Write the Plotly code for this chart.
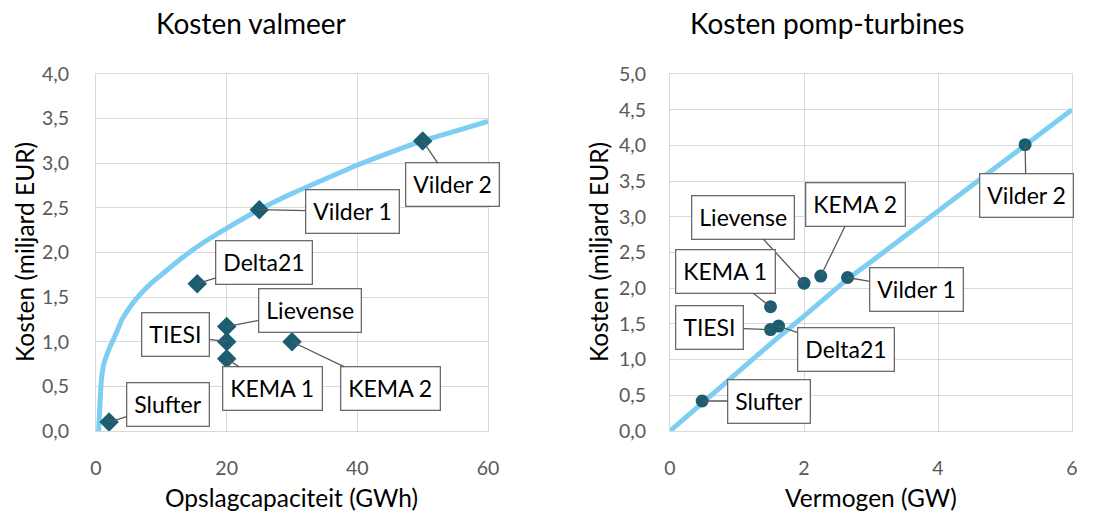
import plotly.graph_objects as go

# ---- data ----
projects = ["Slufter", "Delta21", "Lievense", "TIESI", "KEMA 1", "KEMA 2", "Vilder 1", "Vilder 2"]

# Left chart: storage capacity (GWh) vs cost (billion EUR)
cap_gwh = [2, 15.5, 20, 20, 20, 30, 25, 50]
cap_cost = [0.1, 1.65, 1.17, 1.0, 0.81, 1.0, 2.48, 3.25]

# Right chart: power (GW) vs cost (billion EUR)
pow_gw = [0.48, 1.62, 2.0, 1.5, 1.5, 2.25, 2.65, 5.3]
pow_cost = [0.42, 1.47, 2.07, 1.42, 1.74, 2.17, 2.15, 4.01]

# Trend curves
trend_cap_x = [0.4, 0.8, 1.1, 1.5, 2, 3, 4, 5.5, 7, 8.5, 10, 13, 16, 20, 25, 30, 35, 40, 45, 50, 55, 60]
trend_cap_y = [0.0, 0.55, 0.72, 0.82, 0.92, 1.08, 1.25, 1.42, 1.55, 1.66, 1.75, 1.93, 2.09, 2.27, 2.48, 2.66, 2.82, 2.98, 3.12, 3.25, 3.36, 3.47]
trend_pow_x = [0, 0.5, 1, 1.5, 2, 2.65, 3, 4, 5, 5.3, 6]
trend_pow_y = [0, 0.41, 0.82, 1.22, 1.61, 2.13, 2.37, 3.08, 3.78, 4.0, 4.5]

# label offsets (pixels) for callouts
left_offsets = [(59, -18), (67, -21), (83, -16), (-51, -7), (46, 30), (98, 47), (93, 2), (30, 44)]
right_offsets = [(67, 0), (67, 23), (-61, -66), (-61, -2), (-45, -35), (35, -72), (69, 12), (1, 51)]

FONT = "Lato, 'Open Sans', sans-serif"
MARKER = "#1B5E72"
CURVE = "#7ECEF4"
GRID = "#D9D9D9"
TICK = "#595959"

fig = go.Figure()

fig.add_trace(go.Scatter(x=trend_cap_x, y=trend_cap_y, mode="lines",
                         line=dict(color=CURVE, width=5, shape="spline", smoothing=0.5),
                         xaxis="x", yaxis="y", hoverinfo="skip", showlegend=False))
fig.add_trace(go.Scatter(x=cap_gwh, y=cap_cost, mode="markers",
                         marker=dict(symbol="diamond", size=15, color=MARKER),
                         xaxis="x", yaxis="y", text=projects, showlegend=False))
fig.add_trace(go.Scatter(x=trend_pow_x, y=trend_pow_y, mode="lines",
                         line=dict(color=CURVE, width=5),
                         xaxis="x2", yaxis="y2", hoverinfo="skip", showlegend=False))
fig.add_trace(go.Scatter(x=pow_gw, y=pow_cost, mode="markers",
                         marker=dict(symbol="circle", size=13, color=MARKER),
                         xaxis="x2", yaxis="y2", text=projects, showlegend=False))

W, H = 1098, 516
ydom = [1 - 431 / H, 1 - 74 / H]

axis_common = dict(showgrid=True, gridcolor=GRID, gridwidth=1, zeroline=False,
                   showline=True, linecolor=GRID, linewidth=1, mirror=True,
                   ticks="", tickfont=dict(family=FONT, size=19.5, color=TICK),
                   fixedrange=True, automargin=False)

fig.update_layout(
    template="none",
    width=W, height=H, autosize=False,
    margin=dict(l=0, r=0, t=0, b=0, pad=0),
    paper_bgcolor="white", plot_bgcolor="white",
    separators=", ",
    font=dict(family=FONT),
    xaxis=dict(domain=[96 / W, 488 / W], range=[0, 60], dtick=20, tick0=0,
               anchor="y", ticklabelstandoff=20, **axis_common),
    yaxis=dict(domain=ydom, range=[0, 4], dtick=0.5, tick0=0, tickformat=".1f",
               anchor="x", ticklabelstandoff=22, **axis_common),
    xaxis2=dict(domain=[670 / W, 1072 / W], range=[0, 6], dtick=2, tick0=0,
                anchor="y2", ticklabelstandoff=20, **axis_common),
    yaxis2=dict(domain=ydom, range=[0, 5], dtick=0.5, tick0=0, tickformat=".1f",
                anchor="x2", ticklabelstandoff=19, **axis_common),
)

ann = []
# chart titles
ann.append(dict(text="Kosten valmeer", x=251 / W, y=1 - 23 / H, xref="paper", yref="paper",
                showarrow=False, xanchor="center", yanchor="middle",
                font=dict(family=FONT, size=28, color="black")))
ann.append(dict(text="Kosten pomp-turbines", x=827 / W, y=1 - 23 / H, xref="paper", yref="paper",
                showarrow=False, xanchor="center", yanchor="middle",
                font=dict(family=FONT, size=28, color="black")))
# axis titles
for txt, xc in [("Opslagcapaciteit (GWh)", 291), ("Vermogen (GW)", 871)]:
    ann.append(dict(text=txt, x=xc / W, y=1 - 497 / H, xref="paper", yref="paper",
                    showarrow=False, xanchor="center", yanchor="middle",
                    font=dict(family=FONT, size=24.5, color="black")))
for xc in [24, 598]:
    ann.append(dict(text="Kosten (miljard EUR)", x=xc / W, y=1 - 252 / H, xref="paper", yref="paper",
                    showarrow=False, xanchor="center", yanchor="middle", textangle=-90,
                    font=dict(family=FONT, size=24.5, color="black")))

# callout labels
def callouts(xs, ys, offs, xr, yr):
    for name, x, y, (ox, oy) in zip(projects, xs, ys, offs):
        ann.append(dict(text=name, x=x, y=y, xref=xr, yref=yr, ax=ox, ay=oy,
                        showarrow=True, arrowhead=0, arrowwidth=1.3, arrowcolor="#595959",
                        standoff=0, startstandoff=0,
                        bordercolor="#6B6B6B", borderwidth=1.3, borderpad=7, bgcolor="white",
                        font=dict(family=FONT, size=23, color="black")))

callouts(cap_gwh, cap_cost, left_offsets, "x", "y")
callouts(pow_gw, pow_cost, right_offsets, "x2", "y2")

fig.update_layout(annotations=ann)

fig.write_html("out.html", config={"displayModeBar": False},
               post_script="document.body.style.margin='0px';")
